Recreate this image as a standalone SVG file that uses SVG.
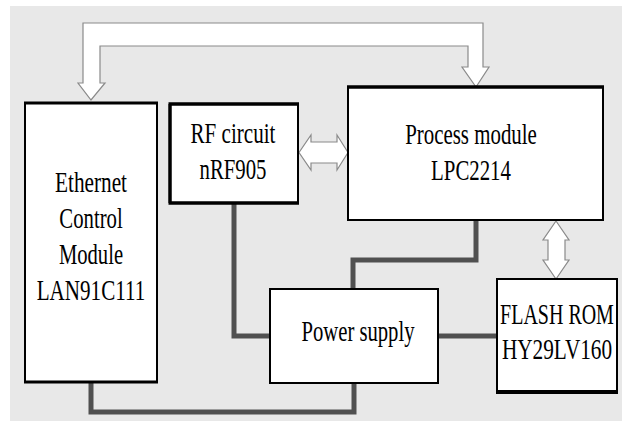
<svg xmlns="http://www.w3.org/2000/svg" width="622" height="423" viewBox="0 0 622 423">
<style>
.box{fill:#fff;stroke:#000;stroke-width:2}
.edge{stroke:#000;fill:none}
.t{font-family:'Liberation Serif','Times New Roman','DejaVu Serif',serif;font-size:29px;fill:#000;text-anchor:middle}
.wire{fill:none;stroke:#505050;stroke-width:5;stroke-linejoin:miter;stroke-linecap:butt}
.hollow{fill:#fff;stroke:#8a8a8a;stroke-width:1.2;stroke-linejoin:miter}
</style>
<rect x="0" y="0" width="622" height="423" fill="#fff"/>
<rect x="10" y="6" width="612" height="415" fill="#e8e8e8"/>

<g id="connectors">
<path class="hollow" d="M83,83 V23 H483 V67 H489 L476,87 L462,67 H468 V46 H100 V83 H105 L91,100 L78,83 Z"/>
<path class="hollow" d="M299,152.5 L311,135 V142 H337 V135 L348,152.5 L337,170 V163 H311 V170 Z"/>
<path class="hollow" d="M556,221 L569,240 H565 V260 H569 L556,279 L543,260 H548 V240 H543 Z"/>
<path class="wire" d="M234,203 V336 H270"/>
<path class="wire" d="M476,220 V260 H353 V289"/>
<path class="wire" d="M438,336 H497"/>
<path class="wire" d="M91,382 V412 H354 V383"/>
</g>

<g id="ethernet">
<rect class="box" x="25" y="103" width="132" height="279"/>
<path class="edge" stroke-width="3" d="M24,103 H158 M24,382 H158"/>
<text class="t" transform="translate(91,192) scale(0.72,1)" textLength="100" lengthAdjust="spacingAndGlyphs">Ethernet</text>
<text class="t" transform="translate(91,228) scale(0.72,1)" textLength="88" lengthAdjust="spacingAndGlyphs">Control</text>
<text class="t" transform="translate(91,264) scale(0.72,1)" textLength="89" lengthAdjust="spacingAndGlyphs">Module</text>
<text class="t" transform="translate(91,300) scale(0.72,1)" textLength="151" lengthAdjust="spacingAndGlyphs">LAN91C111</text>
</g>

<g id="rf">
<rect class="box" x="170" y="104" width="128" height="99"/>
<path class="edge" stroke-width="3.5" d="M168.5,104 H299 M168.5,203 H299 M170,104 V203"/>
<text class="t" transform="translate(233,143) scale(0.72,1)" textLength="118" lengthAdjust="spacingAndGlyphs">RF circuit</text>
<text class="t" transform="translate(233,179) scale(0.72,1)" textLength="93" lengthAdjust="spacingAndGlyphs">nRF905</text>
</g>

<g id="process">
<rect class="box" x="348" y="87" width="255" height="133"/>
<path class="edge" stroke-width="3.5" d="M347,87 H604"/>
<text class="t" transform="translate(471,144) scale(0.72,1)" textLength="183" lengthAdjust="spacingAndGlyphs">Process module</text>
<text class="t" transform="translate(471,180) scale(0.72,1)" textLength="111" lengthAdjust="spacingAndGlyphs">LPC2214</text>
</g>

<g id="power">
<rect class="box" x="270" y="289" width="168" height="94"/>
<text class="t" transform="translate(358,341) scale(0.72,1)" textLength="157" lengthAdjust="spacingAndGlyphs">Power supply</text>
</g>

<g id="flash">
<rect class="box" x="497" y="279" width="120" height="113"/>
<path class="edge" stroke-width="4" d="M496,392 H618"/>
<text class="t" transform="translate(557,324) scale(0.72,1)" textLength="158" lengthAdjust="spacingAndGlyphs">FLASH ROM</text>
<text class="t" transform="translate(557,359) scale(0.72,1)" textLength="153" lengthAdjust="spacingAndGlyphs">HY29LV160</text>
</g>
</svg>
